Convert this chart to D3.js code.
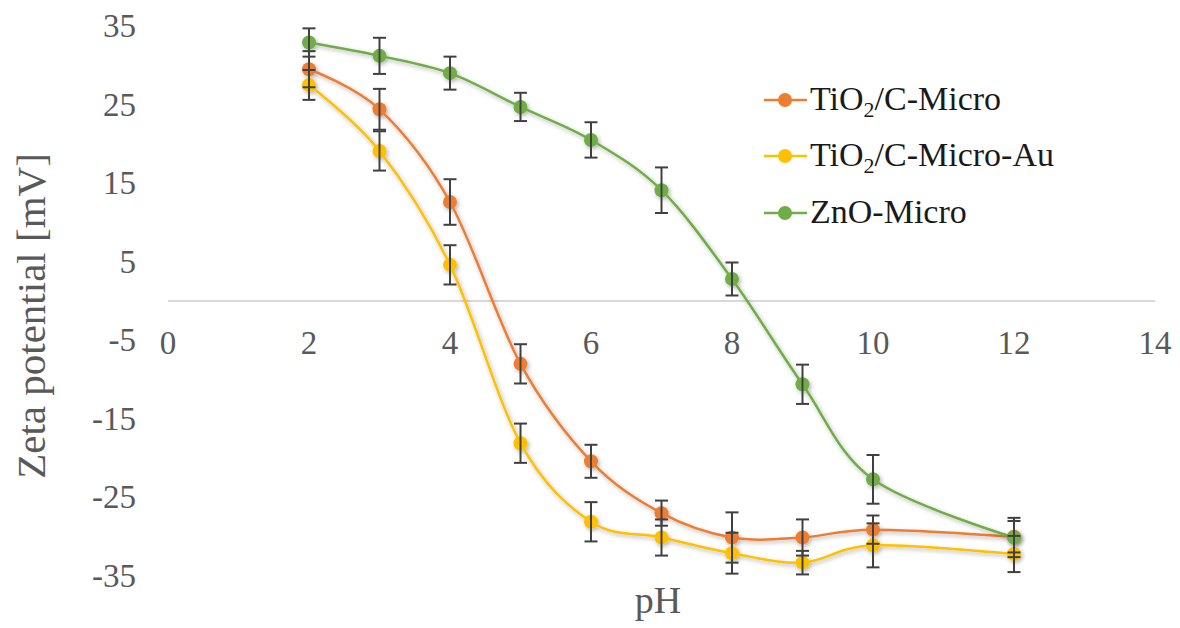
<!DOCTYPE html>
<html>
<head>
<meta charset="utf-8">
<script src="https://cdn.jsdelivr.net/npm/d3@7"></script>
<style>
    body { margin: 0; background: #fff; }
    svg text, svg tspan { font-family: "Liberation Serif", "Times New Roman", serif; }
</style>
</head>
<body>
<svg id="chart" width="1180" height="628"></svg>
<script>
var pH = [2, 3, 4, 5, 6, 7, 8, 9, 10, 12];

var tio2 = [29.5, 24.4, 12.6, -8.0, -20.4, -27.0, -30.1, -30.1, -29.1, -30.0];
var tio2Err = [2.3, 2.6, 2.9, 2.5, 2.1, 1.6, 3.2, 2.3, 1.8, 2.0];

var tio2Au = [27.5, 19.1, 4.6, -18.1, -28.1, -30.1, -32.1, -33.3, -31.1, -32.2];
var tio2AuErr = [1.9, 2.5, 2.5, 2.5, 2.5, 2.3, 2.6, 1.5, 2.8, 2.3];

var zno = [32.9, 31.2, 29.0, 24.7, 20.5, 14.1, 2.8, -10.6, -22.7, -30.1];
var znoErr = [1.8, 2.3, 2.1, 1.8, 2.25, 2.9, 2.1, 2.5, 3.1, 2.5];

var xTicks = [0, 2, 4, 6, 8, 10, 12, 14];
var yTicks = [35, 25, 15, 5, -5, -15, -25, -35];

var seriesNames = ["TiO2/C-Micro", "TiO2/C-Micro-Au", "ZnO-Micro"];
var seriesColors = ["#ED7D31", "#FFC000", "#70AD47"];

var series = [
    { name: seriesNames[0], color: seriesColors[0], values: tio2, errs: tio2Err },
    { name: seriesNames[1], color: seriesColors[1], values: tio2Au, errs: tio2AuErr },
    { name: seriesNames[2], color: seriesColors[2], values: zno, errs: znoErr }
];

var FONT = "'Liberation Serif', 'Times New Roman', serif";

var svg = d3.select("#chart");

var x = d3.scaleLinear().domain([0, 14]).range([168, 1155]);
var y = d3.scaleLinear().domain([-35, 35]).range([576, 26]);

// soft shadow like the office chart style
var defs = svg.append("defs");
defs.append("filter")
    .attr("id", "shadow")
    .attr("x", "-20%").attr("y", "-20%")
    .attr("width", "140%").attr("height", "140%")
    .append("feDropShadow")
    .attr("dx", 1.5).attr("dy", 2)
    .attr("stdDeviation", 2)
    .attr("flood-color", "#000")
    .attr("flood-opacity", 0.3);

// horizontal axis sits on zero
svg.append("line")
    .attr("x1", x(0)).attr("x2", x(14))
    .attr("y1", y(0)).attr("y2", y(0))
    .attr("stroke", "#d9d9d9")
    .attr("stroke-width", 2);

svg.selectAll(".xtick")
    .data(xTicks)
    .enter().append("text")
    .attr("class", "xtick")
    .attr("x", function (d) { return x(d); })
    .attr("y", y(0) + 53)
    .attr("text-anchor", "middle")
    .attr("font-family", FONT)
    .attr("font-size", 33)
    .attr("fill", "#595959")
    .text(function (d) { return d; });

svg.selectAll(".ytick")
    .data(yTicks)
    .enter().append("text")
    .attr("class", "ytick")
    .attr("x", 136)
    .attr("y", function (d) { return y(d) + 11; })
    .attr("text-anchor", "end")
    .attr("font-family", FONT)
    .attr("font-size", 33)
    .attr("fill", "#595959")
    .text(function (d) { return d; });

svg.append("text")
    .attr("x", 658)
    .attr("y", 613)
    .attr("text-anchor", "middle")
    .attr("font-family", FONT)
    .attr("font-size", 38)
    .attr("fill", "#595959")
    .text("pH");

svg.append("text")
    .attr("transform", "translate(45," + 316 + ") rotate(-90)")
    .attr("text-anchor", "middle")
    .attr("font-family", FONT)
    .attr("font-size", 41)
    .attr("fill", "#595959")
    .text("Zeta potential [mV]");

var line = d3.line()
    .x(function (d) { return x(d[0]); })
    .y(function (d) { return y(d[1]); })
    .curve(d3.curveCatmullRom.alpha(0));

series.forEach(function (s) {
    var pts = pH.map(function (p, i) { return [p, s.values[i]]; });
    var g = svg.append("g").attr("filter", "url(#shadow)");
    g.append("path")
        .datum(pts)
        .attr("d", line)
        .attr("fill", "none")
        .attr("stroke", s.color)
        .attr("stroke-width", 2.5);
    g.selectAll("circle")
        .data(pts)
        .enter().append("circle")
        .attr("cx", function (d) { return x(d[0]); })
        .attr("cy", function (d) { return y(d[1]); })
        .attr("r", 7)
        .attr("fill", s.color);
});

// error bars over the markers
series.forEach(function (s) {
    var g = svg.append("g")
        .attr("stroke", "#404040")
        .attr("stroke-width", 2);
    pH.forEach(function (p, i) {
        var cx = x(p);
        var top = y(s.values[i] + s.errs[i]);
        var bot = y(s.values[i] - s.errs[i]);
        g.append("line").attr("x1", cx).attr("x2", cx).attr("y1", top).attr("y2", bot);
        g.append("line").attr("x1", cx - 6.5).attr("x2", cx + 6.5).attr("y1", top).attr("y2", top);
        g.append("line").attr("x1", cx - 6.5).attr("x2", cx + 6.5).attr("y1", bot).attr("y2", bot);
    });
});

// legend
var legend = svg.append("g");
var legendY = [100, 156, 213];
series.forEach(function (s, i) {
    var row = legend.append("g").attr("transform", "translate(0," + legendY[i] + ")");
    row.append("line")
        .attr("x1", 764).attr("x2", 807)
        .attr("y1", 0).attr("y2", 0)
        .attr("stroke", s.color)
        .attr("stroke-width", 2.5);
    row.append("circle")
        .attr("cx", 785).attr("cy", 0)
        .attr("r", 7)
        .attr("fill", s.color);
    var t = row.append("text")
        .attr("x", 810)
        .attr("y", 10)
        .attr("font-family", FONT)
        .attr("font-size", 34)
        .attr("fill", "#1a1a1a");
    var parts = s.name.split("2");
    if (parts.length > 1) {
        t.append("tspan").text(parts[0]);
        t.append("tspan").attr("font-size", 22).attr("dy", 7).text("2");
        t.append("tspan").attr("dy", -7).text(parts[1]);
    } else {
        t.text(s.name);
    }
});
</script>
</body>
</html>
